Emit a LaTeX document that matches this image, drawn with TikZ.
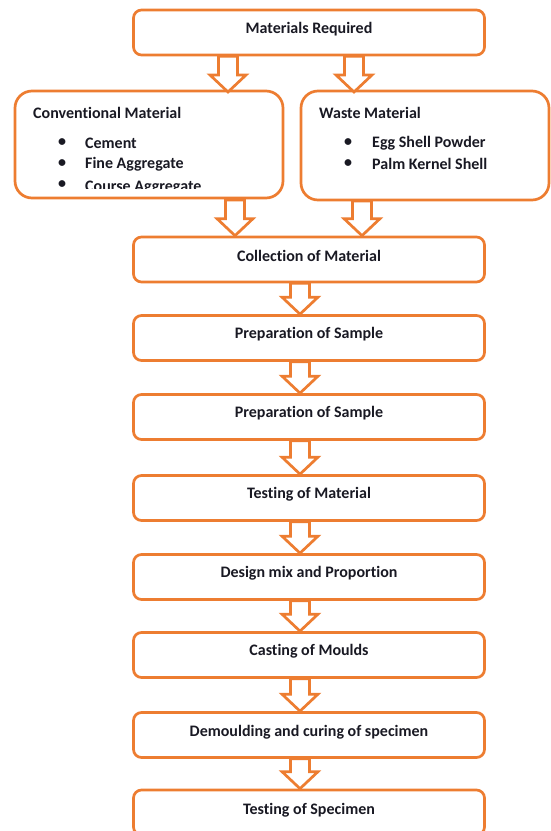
\documentclass[tikz,border=0pt]{standalone}
\usepackage{fontspec}
\setmainfont{Carlito}[Ligatures=NoCommon]
\usetikzlibrary{calc}
\definecolor{orng}{RGB}{237,125,49}
\definecolor{textc}{RGB}{25,25,35}
\tikzset{
 box/.style={draw=orng, line width=2.7pt, rounded corners=8pt, minimum width=351pt, minimum height=45pt, inner sep=0pt},
 bigbox/.style={draw=orng, line width=2.7pt, rounded corners=17pt, inner sep=0pt},
 lbl/.style={font=\bfseries\fontsize{16}{19}\selectfont, text=textc, inner sep=0pt},
 barrow/.style={draw=orng, line width=2.7pt, fill=white, line join=miter}
}
\newcommand\blockarrow[2]{\draw[barrow] let \p1=(#1), \p2=(#2) in
  (\x1-9.5pt,\y1) -- (\x1+9.5pt,\y1) -- (\x1+9.5pt,\y2+17pt) -- (\x1+18pt,\y2+17pt)
  -- (\x1,\y2) -- (\x1-18pt,\y2+17pt) -- (\x1-9.5pt,\y2+17pt) -- cycle;}
\begin{document}
\begin{tikzpicture}[x=1pt,y=-1pt]
\useasboundingbox (0,0) rectangle (551,831);
\clip (0,0) rectangle (551,831);
% boxes
\node[box] (b1) at (309,32.5) {};
\node[bigbox, minimum width=268pt, minimum height=107pt] (cm) at (149,144.5) {};
\node[bigbox, minimum width=248pt, minimum height=109pt] (wm) at (425,145.5) {};
\node[box] (b2) at (309,259.5) {};
\node[box] (b3) at (309,338) {};
\node[box] (b4) at (309,417) {};
\node[box] (b5) at (309,498) {};
\node[box] (b6) at (309,577) {};
\node[box] (b7) at (309,655) {};
\node[box] (b8) at (309,735) {};
\node[box] (b9) at (309,812.5) {};
% labels
\node[lbl] (t1) at ($(b1.center)+(0,-3)$) {Materials Required};
\node[lbl] (t2) at ($(b2.center)+(0,-4)$) {Collection of Material};
\node[lbl] (t3) at ($(b3.center)+(0,-4)$) {Preparation of Sample};
\node[lbl] (t4) at ($(b4.center)+(0,-4)$) {Preparation of Sample};
\node[lbl] (t5) at ($(b5.center)+(0,-4)$) {Testing of Material};
\node[lbl] (t6) at ($(b6.center)+(0,-4)$) {Design mix and Proportion};
\node[lbl] (t7) at ($(b7.center)+(0,-4)$) {Casting of Moulds};
\node[lbl] (t8) at ($(b8.center)+(0,-3)$) {Demoulding and curing of specimen};
\node[lbl] (t9) at (309,810) {Testing of Specimen};
% conventional material
\node[lbl, anchor=west] (ch) at (33,113) {Conventional Material};
\node[lbl] (cb1) at (62,143) {\textbullet};
\node[lbl, anchor=west] (c1) at (85,143) {Cement};
\node[lbl] (cb2) at (62,164) {\textbullet};
\node[lbl, anchor=west] (c2) at (85,164) {Fine Aggregate};
\node[lbl] (cb3) at (62,185) {\textbullet};
\begin{scope}
\clip (20,170) rectangle (280,188.5);
\node[lbl, anchor=west] (c3) at (85,188) {Course Aggregate};
\end{scope}
% waste material
\node[lbl, anchor=west] (wh) at (319,113) {Waste Material};
\node[lbl] (wb1) at (348,143) {\textbullet};
\node[lbl, anchor=west] (w1) at (372,143) {Egg Shell Powder};
\node[lbl] (wb2) at (348,164) {\textbullet};
\node[lbl, anchor=west] (w2) at (372,164) {Palm Kernel Shell};
% arrow coordinates
\coordinate (a1s) at (b1.south -| 228,0); \coordinate (a1e) at (228,92);
\coordinate (a2s) at (b1.south -| 354,0); \coordinate (a2e) at (354,92);
\coordinate (a3s) at (235,200); \coordinate (a3e) at (b2.north -| 235,0);
\coordinate (a4s) at (362,201); \coordinate (a4e) at (b2.north -| 362,0);
\blockarrow{a1s}{a1e}
\blockarrow{a2s}{a2e}
\blockarrow{a3s}{a3e}
\blockarrow{a4s}{a4e}
\foreach \u/\v in {b2/b3,b3/b4,b4/b5,b5/b6,b6/b7,b7/b8,b8/b9}{
  \coordinate (s) at (\u.south -| 300,0);
  \coordinate (e) at (\v.north -| 300,0);
  \blockarrow{s}{e}
}
\end{tikzpicture}
\end{document}
